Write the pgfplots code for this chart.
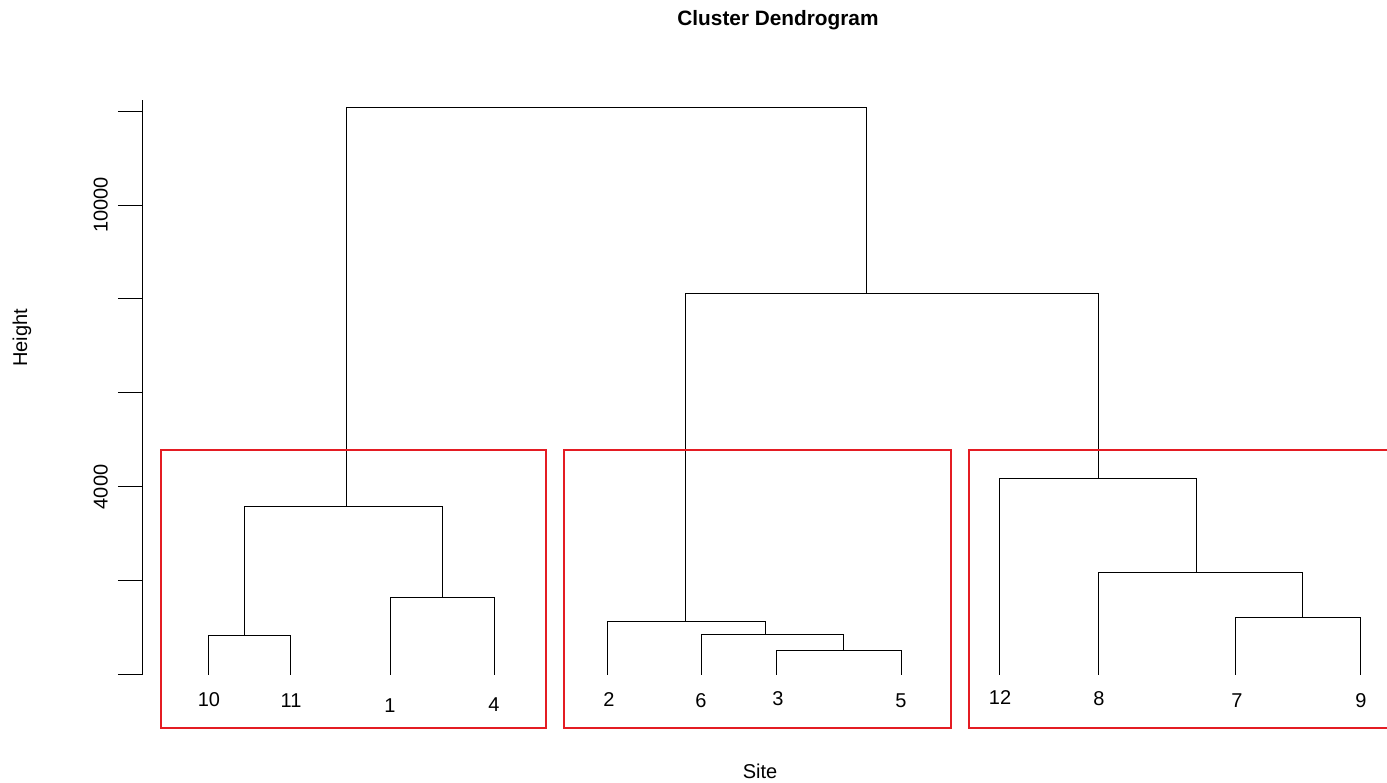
\documentclass[border=0pt]{standalone}
\usepackage{pgfplots}
\pgfplotsset{compat=1.18}
\usepackage{fontspec}
\setmainfont{Liberation Sans}
\definecolor{boxred}{RGB}{228,28,35}
\begin{document}
\fontsize{10}{12}\selectfont
\begin{tikzpicture}
\begin{axis}[
  scale only axis, width=622pt, height=287.4pt,
  xmin=143, xmax=1387, ymin=0, ymax=12235,
  axis x line=none, axis y line*=left,
  axis line style={line width=0.5pt, -},
  scaled y ticks=false,
  ytick={0,2000,4000,6000,8000,10000,12000},
  yticklabels={,,4000,,,10000,},
  tick align=outside, major tick length=12.5pt,
  tick style={line width=0.5pt, black},
  yticklabel style={rotate=90, anchor=south, yshift=1.5pt, font=\fontsize{10}{12}\selectfont},
  clip=false,
  link/.style={black, line width=0.5pt, no markers, forget plot},
  box/.style={boxred, line width=0.9pt, no markers, forget plot},
]
% dendrogram links: (x_left, h_left) (x_left, H) (x_right, H) (x_right, h_right)
\addplot[link] coordinates {(209,0) (209,847) (291,847) (291,0)};
\addplot[link] coordinates {(390,0) (390,1635) (494,1635) (494,0)};
\addplot[link] coordinates {(245,847) (245,3572) (442,3572) (442,1635)};
\addplot[link] coordinates {(776,0) (776,528) (901,528) (901,0)};
\addplot[link] coordinates {(701,0) (701,850) (843,850) (843,528)};
\addplot[link] coordinates {(607,0) (607,1145) (765,1145) (765,850)};
\addplot[link] coordinates {(1235,0) (1235,1230) (1360,1230) (1360,0)};
\addplot[link] coordinates {(1098,0) (1098,2188) (1302,2188) (1302,1230)};
\addplot[link] coordinates {(999,0) (999,4168) (1196,4168) (1196,2188)};
\addplot[link] coordinates {(685,1145) (685,8127) (1098,8127) (1098,4168)};
\addplot[link] coordinates {(347,3572) (347,12070) (866,12070) (866,8127)};
% cluster rectangles
\addplot[box] coordinates {(161,-1132) (546,-1132) (546,4785) (161,4785)} -- cycle;
\addplot[box] coordinates {(564,-1132) (951,-1132) (951,4785) (564,4785)} -- cycle;
\addplot[box] coordinates {(1387,4785) (969,4785) (969,-1132) (1387,-1132)};
% leaf labels
\node at (axis cs:209,-536) {10};
\node at (axis cs:291,-558) {11};
\node at (axis cs:390,-666) {1};
\node at (axis cs:494,-624) {4};
\node at (axis cs:609,-536) {2};
\node at (axis cs:701,-558) {6};
\node at (axis cs:778,-515) {3};
\node at (axis cs:901,-558) {5};
\node at (axis cs:1000,-473) {12};
\node at (axis cs:1099,-515) {8};
\node at (axis cs:1237,-558) {7};
\node at (axis cs:1361,-558) {9};
% titles
\node[font=\bfseries\fontsize{10.4}{12}\selectfont] at (axis cs:778,13938) {Cluster Dendrogram};
\node at (axis cs:760,-2048) {Site};
\node[rotate=90] at (axis cs:22,7169) {Height};
\coordinate (bl) at (axis cs:0,-2282);
\coordinate (tr) at (axis cs:1387,14364);
\end{axis}
\pgfresetboundingbox
\path (bl) rectangle (tr);
\end{tikzpicture}
\end{document}
